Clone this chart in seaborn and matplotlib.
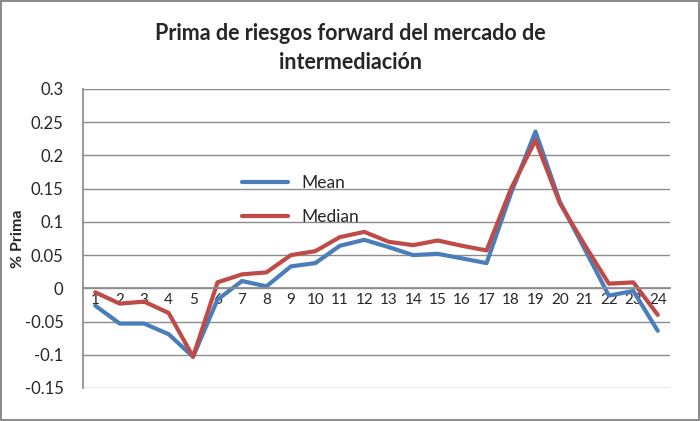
import pandas as pd
import numpy as np
import matplotlib.pyplot as plt
import seaborn as sns

sns.set_theme(style="white")
plt.rcParams['font.family'] = ['Lato', 'DejaVu Sans']

periods = list(range(1, 25))
mean_vals = [-0.026, -0.053, -0.053, -0.069, -0.103, -0.017, 0.011, 0.003,
             0.033, 0.038, 0.064, 0.073, 0.062, 0.050, 0.052, 0.045,
             0.038, 0.143, 0.236, 0.130, 0.060, -0.011, -0.004, -0.064]
median_vals = [-0.006, -0.023, -0.020, -0.037, -0.103, 0.009, 0.021, 0.024,
               0.050, 0.056, 0.077, 0.085, 0.070, 0.065, 0.072, 0.064,
               0.057, 0.150, 0.223, 0.128, 0.066, 0.007, 0.009, -0.040]
y_ticks = [0.3, 0.25, 0.2, 0.15, 0.1, 0.05, 0, -0.05, -0.1, -0.15]

df = pd.DataFrame({
    'period': periods * 2,
    'value': mean_vals + median_vals,
    'serie': ['Mean'] * 24 + ['Median'] * 24,
})

fig = plt.figure(figsize=(7, 4.21), dpi=100)
ax = fig.add_axes([83 / 700, 1 - 388 / 421, 587 / 700, 299 / 421])

sns.lineplot(data=df, x='period', y='value', hue='serie',
             palette={'Mean': '#4A7EBB', 'Median': '#BE4B48'},
             linewidth=3, ax=ax, legend=True)

ax.set_ylim(-0.15, 0.3)
ax.set_xlim(0.5, 24.5)
ax.set_yticks(y_ticks)
ax.set_yticklabels([f'{t:g}' for t in y_ticks], fontsize=12)
ax.set_xticks(periods)
ax.set_xticklabels([str(p) for p in periods], fontsize=12.5)
ax.yaxis.grid(True, color='#8c8c8c', linewidth=1)
ax.xaxis.grid(False)
ax.set_axisbelow(True)

ax.spines['bottom'].set_position(('data', 0))
ax.spines['bottom'].set_color('#8c8c8c')
ax.spines['left'].set_color('#8c8c8c')
ax.spines['top'].set_visible(False)
ax.spines['right'].set_visible(False)
ax.tick_params(axis='both', length=0)
ax.tick_params(axis='x', pad=3)
ax.tick_params(axis='y', pad=14)

ax.set_xlabel('')
ax.set_ylabel('% Prima', fontsize=11.5, fontweight='bold', labelpad=0)

leg = ax.legend(loc='upper left', bbox_to_anchor=(0.245, 0.765), frameon=False,
                fontsize=12.5, handlelength=2.6, labelspacing=1.05)

fig.suptitle('Prima de riesgos forward del mercado de\nintermediación',
             fontsize=15.5, fontweight='bold', y=0.945, linespacing=1.45)

fig.patch.set_edgecolor('#8c8c8c')
fig.patch.set_linewidth(1.5)
plt.savefig('out.png', dpi=100, edgecolor=fig.get_edgecolor())
plt.close()
